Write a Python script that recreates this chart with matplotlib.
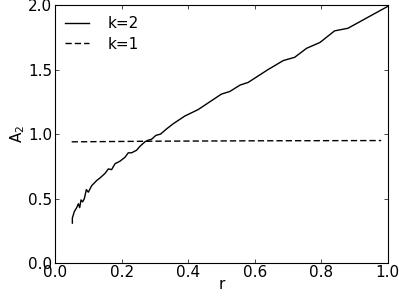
import matplotlib
matplotlib.use("Agg")
import matplotlib.pyplot as plt

# -----------------------------
# Data
# -----------------------------
r_k2 = [0.052, 0.052, 0.058, 0.065, 0.070, 0.074, 0.078, 0.083, 0.088, 0.094,
        0.100, 0.110, 0.125, 0.135, 0.150, 0.160, 0.170, 0.180, 0.195, 0.210,
        0.220, 0.230, 0.245, 0.255, 0.270, 0.280, 0.290, 0.303, 0.317, 0.335,
        0.355, 0.390, 0.430, 0.465, 0.500, 0.525, 0.556, 0.580, 0.610, 0.640,
        0.686, 0.720, 0.756, 0.796, 0.840, 0.880, 1.000]
a_k2 = [0.31, 0.35, 0.40, 0.43, 0.46, 0.43, 0.49, 0.475, 0.50, 0.57,
        0.55, 0.60, 0.64, 0.66, 0.695, 0.73, 0.725, 0.77, 0.79, 0.82,
        0.855, 0.855, 0.875, 0.905, 0.94, 0.953, 0.96, 0.99, 1.00, 1.04,
        1.08, 1.14, 1.19, 1.25, 1.31, 1.33, 1.38, 1.40, 1.45, 1.50,
        1.57, 1.595, 1.665, 1.71, 1.80, 1.82, 1.99]

r_k1 = [0.05, 0.30, 0.60, 0.98]
a_k1 = [0.940, 0.945, 0.948, 0.950]

# -----------------------------
# Plot
# -----------------------------
plt.rcParams["font.family"] = "DejaVu Sans"
plt.rcParams["font.size"] = 11

fig = plt.figure(figsize=(3.99, 2.97), dpi=100)
ax = fig.add_axes([0.138, 0.114, 0.834, 0.869])

ax.plot(r_k2, a_k2, color="black", lw=1, label="k=2")
ax.plot(r_k1, a_k1, color="black", lw=1, ls="--", dashes=(4.5, 2.2), label="k=1")

ax.set_xlim(0, 1)
ax.set_ylim(0, 2)
ax.set_xticks([0, 0.2, 0.4, 0.6, 0.8, 1.0])
ax.set_yticks([0, 0.5, 1.0, 1.5, 2.0])
ax.set_xticklabels(["0.0", "0.2", "0.4", "0.6", "0.8", "1.0"])
ax.set_yticklabels(["0.0", "0.5", "1.0", "1.5", "2.0"])
ax.tick_params(direction="in", top=True, right=True, length=3, width=0.5)
ax.tick_params(axis="x", pad=1)
ax.tick_params(axis="y", pad=2)

for s in ax.spines.values():
    s.set_linewidth(0.8)

ax.set_xlabel("r", labelpad=-2)
ax.set_ylabel("A$_2$", labelpad=1)

ax.legend(loc="upper left", frameon=False, handlelength=1.6, handletextpad=1.2,
          fontsize=11, borderaxespad=0.25, labelspacing=0.35,
          bbox_to_anchor=(0.0, 0.995))

fig.savefig("out.png", dpi=100, facecolor="white")
